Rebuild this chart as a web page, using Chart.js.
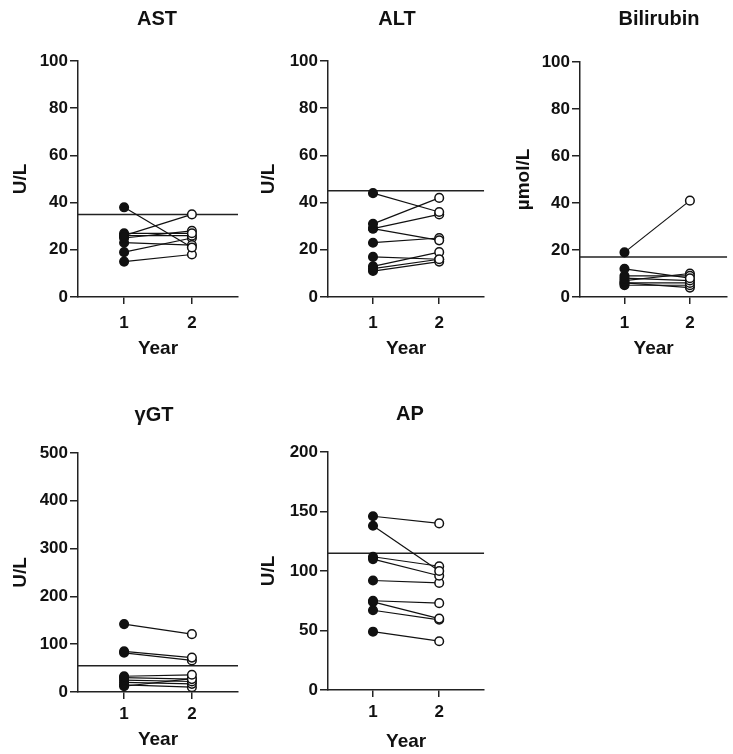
<!DOCTYPE html>
<html>
<head>
<meta charset="utf-8">
<title>Liver tests, year 1 vs year 2</title>
<script src="https://cdn.jsdelivr.net/npm/chart.js@4.4.1/dist/chart.umd.min.js"></script>
<style>
  html, body { margin: 0; padding: 0; background: #fff; overflow: hidden; }
  #wrap { position: relative; width: 733px; height: 754px; }
  #wrap canvas { position: absolute; }
</style>
</head>
<body>
<div id="wrap">
  <canvas id="c1" width="245" height="370" style="left:0;top:0"></canvas>
  <canvas id="c2" width="245" height="370" style="left:245px;top:0"></canvas>
  <canvas id="c3" width="243" height="370" style="left:490px;top:0"></canvas>
  <canvas id="c4" width="245" height="374" style="left:0;top:380px"></canvas>
  <canvas id="c5" width="245" height="374" style="left:245px;top:380px"></canvas>
</div>
<script>
// x categories
var years = [1, 2];

// paired values, year 1 -> year 2 (one entry per subject)
var astY1 = [38, 26, 27, 26, 25, 23, 19, 15];
var astY2 = [21, 35, 27, 26, 28, 22, 25, 18];

var altY1 = [44, 31, 29, 29, 23, 17, 13, 11, 12];
var altY2 = [36, 42, 35, 24, 25, 16, 19, 15, 16];

var biliY1 = [19, 12, 9, 8, 7, 6, 5, 6];
var biliY2 = [41, 8, 9, 7, 10, 6, 5, 4];

var ggtY1 = [142, 85, 82, 33, 30, 25, 20, 15, 12];
var ggtY2 = [121, 72, 66, 36, 27, 22, 17, 10, 28];

var apY1 = [146, 138, 112, 110, 92, 75, 74, 67, 49];
var apY2 = [140, 100, 104, 96, 90, 73, 60, 59, 41];

// upper reference limits
var astRef = 35, altRef = 45, biliRef = 17, ggtRef = 55, apRef = 115;

var FONT = '"Liberation Sans", Arial, Helvetica, sans-serif';
var INK = '#111';
Chart.defaults.font.family = FONT;

// title centred where the panel wants it
var panelTitle = {
  id: 'panelTitle',
  afterDraw: function(chart, args, opts) {
    var ctx = chart.ctx;
    ctx.save();
    ctx.font = 'bold 20px ' + FONT;
    ctx.fillStyle = INK;
    ctx.textAlign = 'center';
    ctx.textBaseline = 'middle';
    ctx.fillText(opts.text, opts.x, opts.y);
    ctx.restore();
  }
};
Chart.register(panelTitle);

function makePanel(id, o){
  var ds = [];
  for(var i = 0; i < o.y1.length; i++){
    ds.push({
      data: [{x: years[0], y: o.y1[i]}, {x: years[1], y: o.y2[i]}],
      showLine: true,
      borderColor: INK,
      borderWidth: 1.2,
      pointRadius: 4.3,
      pointBorderWidth: 1.5,
      pointBorderColor: INK,
      pointBackgroundColor: [INK, '#fff'],
      clip: false,
      order: 1
    });
  }
  ds.push({
    data: [{x: o.xMin, y: o.ref}, {x: o.xMax, y: o.ref}],
    showLine: true,
    borderColor: '#222',
    borderWidth: 1.5,
    pointRadius: 0,
    order: 10
  });

  new Chart(document.getElementById(id), {
    type: 'scatter',
    data: {datasets: ds},
    options: {
      responsive: false,
      animation: false,
      events: [],
      layout: {padding: {top: o.padTop, right: o.padRight, left: 0, bottom: 0}},
      plugins: {
        legend: {display: false},
        tooltip: {enabled: false},
        panelTitle: {text: o.title, x: o.titleX, y: o.titleY}
      },
      scales: {
        x: {
          type: 'linear',
          min: o.xMin,
          max: o.xMax,
          afterBuildTicks: function(s){ s.ticks = years.map(function(v){ return {value: v}; }); },
          afterFit: function(s){ s.height = o.xAxisH; },
          grid: {drawOnChartArea: false, color: '#222', lineWidth: 1.5, tickLength: 7},
          border: {color: '#222', width: 1.5},
          ticks: {color: INK, padding: o.xTickPad, font: {size: 17, weight: 'bold'}},
          title: {display: true, text: 'Year', color: INK, font: {size: 19, weight: 'bold'}, padding: {top: 0, bottom: o.xTitlePad}}
        },
        y: {
          min: 0,
          max: o.yMax,
          afterFit: function(s){ s.width = o.yAxisW; },
          grid: {drawOnChartArea: false, color: '#222', lineWidth: 1.5, tickLength: 8},
          border: {color: '#222', width: 1.5},
          ticks: {stepSize: o.step, color: INK, padding: 2, font: {size: 17, weight: 'bold'}},
          title: {display: true, text: o.unit, color: INK, font: {size: 19, weight: 'bold'}, padding: {top: o.yTitlePad, bottom: 0}}
        }
      }
    }
  });
}

makePanel('c1', {title: 'AST', titleX: 157, titleY: 19, y1: astY1, y2: astY2, ref: astRef,
  yMax: 100, step: 20, unit: 'U/L', xMin: 0.32, xMax: 2.68,
  padTop: 61, padRight: 7, yAxisW: 78, xAxisH: 73, xTickPad: 9, xTitlePad: 10, yTitlePad: 9});

makePanel('c2', {title: 'ALT', titleX: 152, titleY: 19, y1: altY1, y2: altY2, ref: altRef,
  yMax: 100, step: 20, unit: 'U/L', xMin: 0.32, xMax: 2.68,
  padTop: 61, padRight: 2, yAxisW: 83, xAxisH: 73, xTickPad: 9, xTitlePad: 10, yTitlePad: 12});

makePanel('c3', {title: 'Bilirubin', titleX: 169, titleY: 19, y1: biliY1, y2: biliY2, ref: biliRef,
  yMax: 100, step: 20, unit: 'µmol/L', xMin: 0.32, xMax: 2.57,
  padTop: 62, padRight: 0, yAxisW: 90, xAxisH: 73, xTickPad: 9, xTitlePad: 10, yTitlePad: 22});

makePanel('c4', {title: 'γGT', titleX: 154, titleY: 35, y1: ggtY1, y2: ggtY2, ref: ggtRef,
  yMax: 500, step: 100, unit: 'U/L', xMin: 0.32, xMax: 2.68,
  padTop: 73, padRight: 7, yAxisW: 78, xAxisH: 62, xTickPad: 5, xTitlePad: 3, yTitlePad: 9});

makePanel('c5', {title: 'AP', titleX: 165, titleY: 34, y1: apY1, y2: apY2, ref: apRef,
  yMax: 200, step: 50, unit: 'U/L', xMin: 0.32, xMax: 2.68,
  padTop: 72, padRight: 2, yAxisW: 83, xAxisH: 64, xTickPad: 5, xTitlePad: 1, yTitlePad: 12});
</script>
</body>
</html>
